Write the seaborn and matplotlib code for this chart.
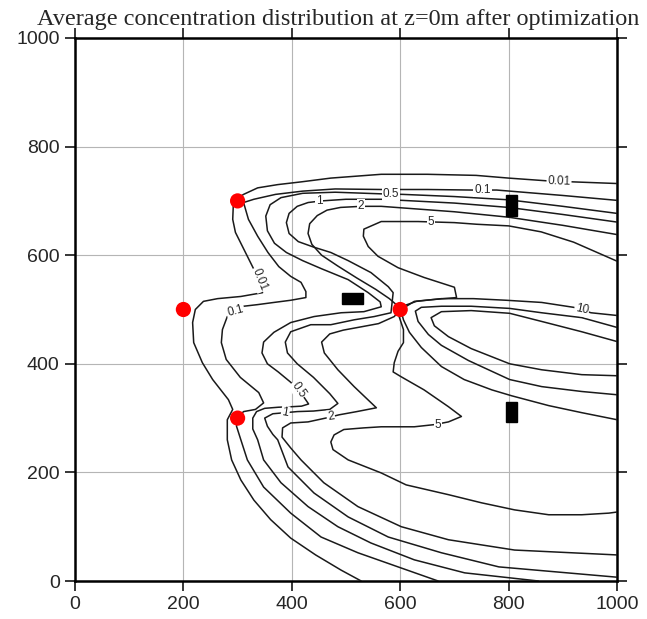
import numpy as np
import pandas as pd
import matplotlib
matplotlib.use("Agg")
import matplotlib.pyplot as plt
from matplotlib.patches import Rectangle
import seaborn as sns

# ---------------- data ----------------
# contour traces (x, y in metres)
c001_x = [1000, 920, 870, 800, 740, 650, 565, 472, 417, 374, 337, 311, 300, 292, 291, 296, 309, 324, 330, 340, 346, 306, 263, 237, 222, 217, 219, 235, 254, 283, 291, 281, 281, 289, 306, 330, 361, 398, 444, 491, 528]
c001_y = [732, 735, 737, 742, 747, 749, 749, 742, 735, 730, 724, 712, 705, 690, 666, 642, 616, 586, 574, 555, 531, 524, 520, 515, 500, 476, 439, 402, 371, 334, 316, 297, 260, 223, 186, 149, 113, 79, 48, 20, 0]

c01_x = [1000, 900, 778, 731, 650, 565, 480, 420, 370, 330, 311, 320, 337, 356, 376, 398, 417, 426, 426, 398, 367, 337, 311, 296, 281, 272, 270, 279, 305, 339, 348, 333, 311, 300, 298, 306, 318, 348, 398, 454, 522, 596, 670]
c01_y = [701, 710, 720, 720, 721, 721, 722, 718, 712, 703, 697, 666, 635, 605, 579, 561, 550, 533, 522, 517, 513, 509, 506, 497, 487, 463, 439, 408, 375, 347, 328, 316, 312, 301, 285, 260, 223, 173, 125, 81, 52, 26, 0]

c05_x = [1000, 900, 800, 700, 605, 565, 480, 420, 380, 360, 352, 355, 368, 390, 420, 455, 504, 541, 563, 565, 533, 491, 441, 398, 367, 348, 345, 355, 375, 398, 420, 431, 418, 400, 375, 350, 335, 328, 328, 337, 348, 380, 430, 485, 546, 626, 719, 855]
c05_y = [677, 690, 702, 708, 712, 713, 716, 714, 706, 693, 672, 645, 622, 605, 590, 575, 555, 531, 514, 505, 496, 494, 487, 476, 458, 440, 420, 400, 385, 366, 342, 326, 322, 321, 320, 318, 312, 300, 280, 260, 223, 181, 137, 100, 70, 39, 15, 0]

c1_x = [1000, 900, 800, 700, 565, 500, 455, 430, 410, 395, 390, 395, 412, 440, 472, 504, 546, 578, 587, 583, 552, 515, 472, 435, 398, 388, 392, 410, 440, 470, 485, 470, 440, 410, 388, 365, 350, 355, 365, 374, 393, 441, 504, 578, 676, 782, 1000]
c1_y = [661, 675, 688, 696, 703, 703, 700, 697, 690, 677, 660, 640, 625, 615, 605, 590, 568, 542, 531, 494, 487, 481, 472, 472, 459, 440, 420, 400, 375, 345, 327, 316, 313, 312, 310, 308, 300, 285, 270, 260, 210, 162, 118, 81, 52, 26, 7]

c2_x = [1000, 900, 800, 700, 565, 528, 490, 465, 447, 433, 430, 437, 455, 485, 520, 555, 580, 595, 600, 589, 560, 533, 495, 470, 455, 460, 485, 515, 556, 520, 487, 467, 430, 398, 383, 382, 398, 417, 459, 522, 602, 689, 811, 1000]
c2_y = [638, 655, 670, 680, 690, 690, 688, 683, 673, 658, 640, 620, 600, 580, 558, 537, 520, 507, 500, 487, 474, 469, 462, 455, 440, 420, 389, 358, 319, 312, 306, 301, 293, 291, 282, 265, 245, 223, 181, 137, 100, 76, 57, 48]

c5_x = [1000, 920, 860, 800, 741, 700, 633, 565, 533, 532, 541, 559, 596, 644, 700, 704, 657, 626, 602, 598, 606, 606, 596, 589, 587, 602, 644, 689, 713, 689, 663, 626, 565, 533, 496, 478, 472, 476, 504, 565, 611, 689, 750, 811, 874, 935, 985, 1000]
c5_y = [589, 624, 643, 654, 657, 660, 662, 662, 648, 635, 616, 598, 577, 559, 541, 522, 518, 515, 500, 487, 463, 439, 423, 402, 385, 376, 352, 321, 303, 293, 288, 284, 284, 282, 279, 269, 256, 242, 223, 199, 177, 159, 144, 131, 122, 122, 125, 127]

c10_x = [1000, 952, 920, 861, 796, 735, 676, 630, 607, 602, 606, 617, 639, 676, 718, 769, 806, 874, 935, 1000]
c10_y = [489, 494, 504, 513, 517, 520, 520, 515, 507, 496, 481, 458, 430, 395, 371, 352, 341, 323, 310, 297]

c20_x = [1000, 935, 861, 802, 731, 676, 639, 628, 633, 652, 676, 726, 802, 861, 935, 1000]
c20_y = [467, 485, 494, 502, 506, 506, 504, 497, 478, 454, 434, 406, 371, 358, 349, 343]

c50_x = [1000, 935, 861, 802, 731, 676, 657, 663, 689, 731, 802, 861, 935, 1000]
c50_y = [441, 459, 478, 493, 498, 496, 485, 470, 450, 428, 400, 389, 380, 378]

# contour labels: text, x, y, rotation (deg)
lab_text = ["0.01", "0.1", "0.5", "1", "2", "5", "10", "0.01", "0.1", "0.5", "1", "2", "5"]
lab_x    = [893, 752, 583, 450, 528, 657, 935, 340, 296, 412, 388, 472, 670]
lab_y    = [735, 720, 712, 700, 690, 662, 500, 555, 497, 352, 310, 302, 288]
lab_rot  = [-2, 0, 0, 0, 0, 0, -12, -68, 15, -55, -10, 8, 0]

# sources (red dots)
src_x = [300, 200, 600, 300]
src_y = [700, 500, 500, 300]

# buildings (black rectangles): centre, width, height
bld_x = [512, 805, 805]
bld_y = [521, 691, 311]
bld_w = [40, 20, 20]
bld_h = [20, 38, 38]

ticks = [0, 200, 400, 600, 800, 1000]
title = "Average concentration distribution at z=0m after optimization"

# ---------------- build long table ----------------
traces = {"0.01": (c001_x, c001_y), "0.1": (c01_x, c01_y), "0.5": (c05_x, c05_y),
          "1": (c1_x, c1_y), "2": (c2_x, c2_y), "5": (c5_x, c5_y),
          "10": (c10_x, c10_y), "20": (c20_x, c20_y), "50": (c50_x, c50_y)}
rows = []
for name, (xs, ys) in traces.items():
    for i, (xx, yy) in enumerate(zip(xs, ys)):
        rows.append({"level": name, "order": i, "x": xx, "y": yy})
df = pd.DataFrame(rows)

# ---------------- plot ----------------
sns.set_theme(style="white")
plt.rcParams["font.family"] = ["Liberation Sans", "DejaVu Sans"]

fig = plt.figure(figsize=(6.47, 6.19), dpi=100)
ax = fig.add_axes([75/647, 38/619, 542/647, 543/619])

sns.lineplot(data=df, x="x", y="y", units="level", estimator=None, sort=False,
             color="#1a1a1a", linewidth=1.1, ax=ax, legend=False, zorder=3)

for t, xx, yy, r in zip(lab_text, lab_x, lab_y, lab_rot):
    ax.text(xx, yy, t, fontsize=8.5, rotation=r,
            ha="center", va="center", zorder=4,
            bbox=dict(boxstyle="square,pad=0.08", fc="white", ec="none"))

for cx, cy, w, h in zip(bld_x, bld_y, bld_w, bld_h):
    ax.add_patch(Rectangle((cx - w/2, cy - h/2), w, h, color="black", zorder=5))

sns.scatterplot(x=src_x, y=src_y, color="red", s=120, edgecolor="none", zorder=6, ax=ax,
                legend=False)

ax.set_xlim(0, 1000)
ax.set_ylim(0, 1000)
ax.set_xticks(ticks)
ax.set_yticks(ticks)
ax.set_xlabel("")
ax.set_ylabel("")
ax.grid(True, color="#b5b5b5", linewidth=0.8)
ax.set_axisbelow(True)
for s in ax.spines.values():
    s.set_linewidth(1.8)
    s.set_color("black")
ax.tick_params(which="both", direction="out", top=True, right=True, bottom=True, left=True,
               length=7, width=1.1, color="black", labelsize=14, pad=4,
               labeltop=False, labelright=False)
ttl = ax.set_title(title, fontsize=17.5, family=["Liberation Serif", "DejaVu Serif"], pad=9)
ttl.set_x(0.485)

fig.savefig("out.png", dpi=100)
